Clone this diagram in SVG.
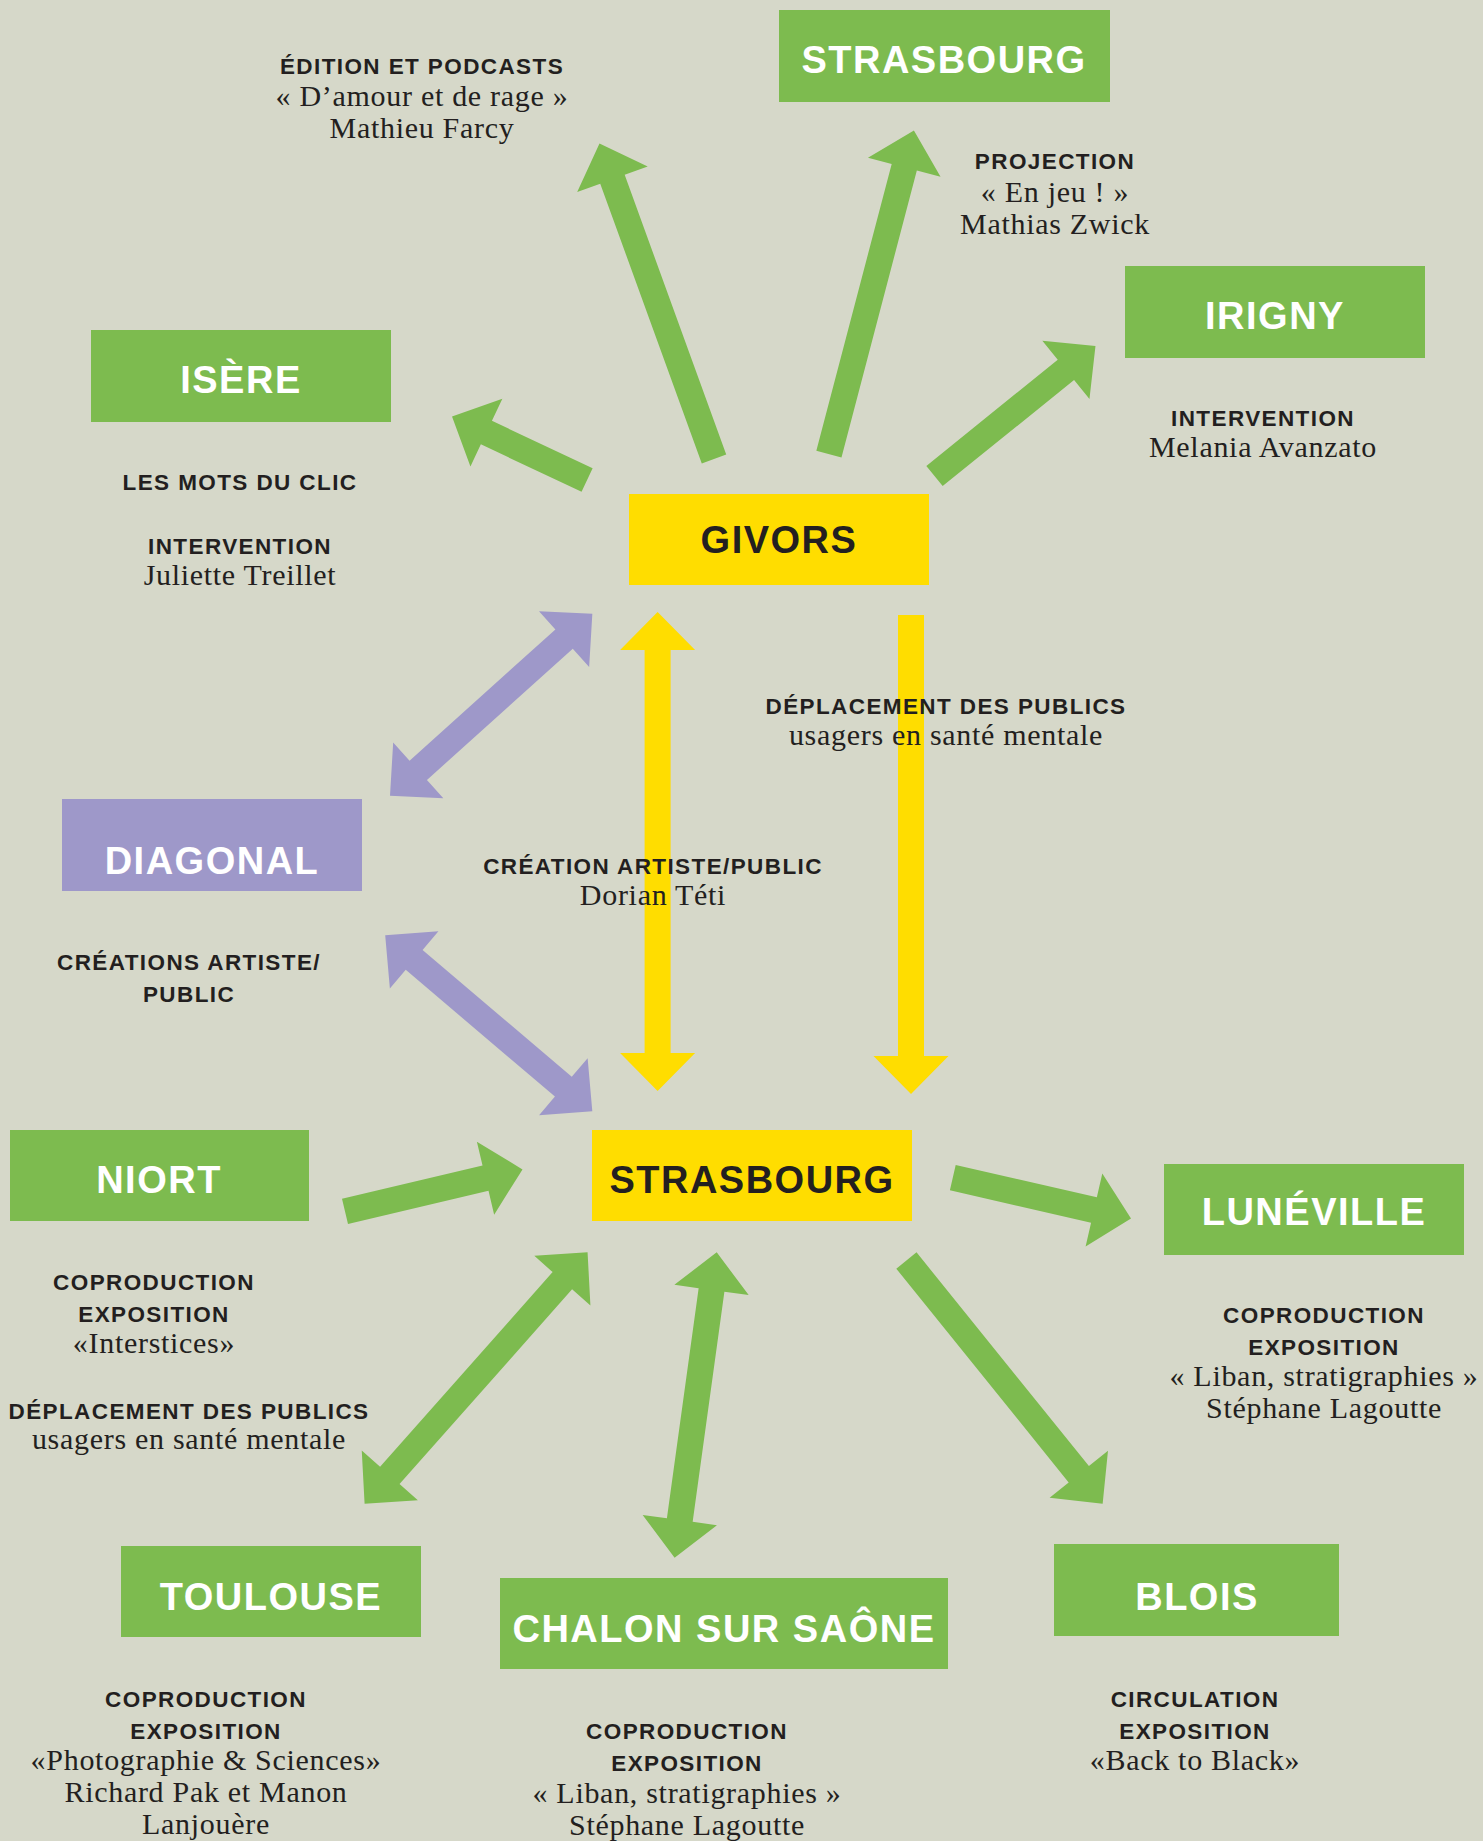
<svg xmlns="http://www.w3.org/2000/svg" width="1483" height="1841" viewBox="0 0 1483 1841">
<style>
.bg{fill:#d6d8c9}
.g{fill:#7dbb4f}
.y{fill:#ffdd00}
.p{fill:#9e98c9}
.nl{font-family:"Liberation Sans",Arial,sans-serif;font-weight:700;font-size:38px;letter-spacing:1.5px;text-anchor:middle;fill:#ffffff}
.nd{fill:#231f20}
.b{font-family:"Liberation Sans",Arial,sans-serif;font-weight:700;font-size:22.5px;letter-spacing:1.4px;text-anchor:middle;fill:#231f20}
.s{font-family:"Liberation Serif","Times New Roman",serif;font-size:30px;letter-spacing:0.7px;text-anchor:middle;fill:#231f20}
</style>
<rect class="bg" x="0" y="0" width="1483" height="1841"/>
<g id="connectors">
  <polygon class="g" points="0,-13 297.6,-13 297.6,-37.5 335.6,0 297.6,37.5 297.6,13 0,13" transform="translate(714,459) rotate(-109.95)"/>
  <polygon class="g" points="0,-13 296.6,-13 296.6,-37.5 334.6,0 296.6,37.5 296.6,13 0,13" transform="translate(828.9,454.1) rotate(-75.28)"/>
  <polygon class="g" points="0,-13 168.9,-13 168.9,-37.5 206.9,0 168.9,37.5 168.9,13 0,13" transform="translate(934.5,476) rotate(-38.92)"/>
  <polygon class="g" points="0,-13 111.3,-13 111.3,-37.5 149.3,0 111.3,37.5 111.3,13 0,13" transform="translate(587.1,480) rotate(-154.79)"/>
  <polygon class="y" points="38,-13 441.1,-13 441.1,-37.5 479.1,0 441.1,37.5 441.1,13 38,13 38,37.5 0,0 38,-37.5" transform="translate(657.6,1091) rotate(-90)"/>
  <polygon class="y" points="0,-13 441,-13 441,-37.5 479,0 441,37.5 441,13 0,13" transform="translate(911,615) rotate(90)"/>
  <polygon class="p" points="38,-13 234.1,-13 234.1,-37.5 272.1,0 234.1,37.5 234.1,13 38,13 38,37.5 0,0 38,-37.5" transform="translate(390,795.7) rotate(-41.96)"/>
  <polygon class="p" points="38,-13 233.8,-13 233.8,-37.5 271.8,0 233.8,37.5 233.8,13 38,13 38,37.5 0,0 38,-37.5" transform="translate(385.2,935.3) rotate(40.36)"/>
  <polygon class="g" points="0,-13 144.4,-13 144.4,-37.5 182.4,0 144.4,37.5 144.4,13 0,13" transform="translate(345,1211.4) rotate(-13.31)"/>
  <polygon class="g" points="0,-13 144.8,-13 144.8,-37.5 182.8,0 144.8,37.5 144.8,13 0,13" transform="translate(952.8,1177.7) rotate(12.87)"/>
  <polygon class="g" points="0,-13 274.6,-13 274.6,-37.5 312.6,0 274.6,37.5 274.6,13 0,13" transform="translate(906.4,1260.5) rotate(51.11)"/>
  <polygon class="g" points="38,-13 298.1,-13 298.1,-37.5 336.1,0 298.1,37.5 298.1,13 38,13 38,37.5 0,0 38,-37.5" transform="translate(364.6,1503.8) rotate(-48.44)"/>
  <polygon class="g" points="38,-13 270.3,-13 270.3,-37.5 308.3,0 270.3,37.5 270.3,13 38,13 38,37.5 0,0 38,-37.5" transform="translate(674.6,1557.7) rotate(-82.15)"/>
</g>
<g id="node-strasbourg-top"><rect class="g" x="779" y="10" width="331" height="92"/><text class="nl" x="944" y="73">STRASBOURG</text></g>
<g id="node-irigny"><rect class="g" x="1125" y="266" width="300" height="92"/><text class="nl" x="1275" y="329">IRIGNY</text></g>
<g id="node-isere"><rect class="g" x="91" y="330" width="300" height="92"/><text class="nl" x="241" y="393">ISÈRE</text></g>
<g id="node-givors"><rect class="y" x="629" y="494" width="300" height="91"/><text class="nl nd" x="779" y="553">GIVORS</text></g>
<g id="node-diagonal"><rect class="p" x="62" y="799" width="300" height="92"/><text class="nl" x="212" y="874">DIAGONAL</text></g>
<g id="node-niort"><rect class="g" x="10" y="1130" width="299" height="91"/><text class="nl" x="159" y="1193">NIORT</text></g>
<g id="node-strasbourg"><rect class="y" x="592" y="1130" width="320" height="91"/><text class="nl nd" x="752" y="1193">STRASBOURG</text></g>
<g id="node-luneville"><rect class="g" x="1164" y="1164" width="300" height="91"/><text class="nl" x="1314" y="1225">LUNÉVILLE</text></g>
<g id="node-toulouse"><rect class="g" x="121" y="1546" width="300" height="91"/><text class="nl" x="271" y="1610">TOULOUSE</text></g>
<g id="node-chalon"><rect class="g" x="500" y="1578" width="448" height="91"/><text class="nl" x="724" y="1642">CHALON SUR SAÔNE</text></g>
<g id="node-blois"><rect class="g" x="1054" y="1544" width="285" height="92"/><text class="nl" x="1197" y="1610">BLOIS</text></g>
<g id="labels">
  <text class="b" x="422" y="74">ÉDITION ET PODCASTS</text>
  <text class="s" x="422" y="106">« D’amour et de rage »</text>
  <text class="s" x="422" y="138">Mathieu Farcy</text>

  <text class="b" x="1055" y="169">PROJECTION</text>
  <text class="s" x="1055" y="202">« En jeu ! »</text>
  <text class="s" x="1055" y="234">Mathias Zwick</text>

  <text class="b" x="1263" y="426">INTERVENTION</text>
  <text class="s" x="1263" y="457">Melania Avanzato</text>

  <text class="b" x="240" y="490">LES MOTS DU CLIC</text>
  <text class="b" x="240" y="554">INTERVENTION</text>
  <text class="s" x="240" y="585">Juliette Treillet</text>

  <text class="b" x="946" y="714">DÉPLACEMENT DES PUBLICS</text>
  <text class="s" x="946" y="745">usagers en santé mentale</text>

  <text class="b" x="653" y="874">CRÉATION ARTISTE/PUBLIC</text>
  <text class="s" x="653" y="905">Dorian Téti</text>

  <text class="b" x="189" y="970">CRÉATIONS ARTISTE/</text>
  <text class="b" x="189" y="1002">PUBLIC</text>

  <text class="b" x="154" y="1290">COPRODUCTION</text>
  <text class="b" x="154" y="1322">EXPOSITION</text>
  <text class="s" x="154" y="1353">«Interstices»</text>
  <text class="b" x="189" y="1419">DÉPLACEMENT DES PUBLICS</text>
  <text class="s" x="189" y="1449">usagers en santé mentale</text>

  <text class="b" x="1324" y="1323">COPRODUCTION</text>
  <text class="b" x="1324" y="1355">EXPOSITION</text>
  <text class="s" x="1324" y="1386">« Liban, stratigraphies »</text>
  <text class="s" x="1324" y="1418">Stéphane Lagoutte</text>

  <text class="b" x="206" y="1707">COPRODUCTION</text>
  <text class="b" x="206" y="1739">EXPOSITION</text>
  <text class="s" x="206" y="1770">«Photographie &amp; Sciences»</text>
  <text class="s" x="206" y="1802">Richard Pak et Manon</text>
  <text class="s" x="206" y="1834">Lanjouère</text>

  <text class="b" x="687" y="1739">COPRODUCTION</text>
  <text class="b" x="687" y="1771">EXPOSITION</text>
  <text class="s" x="687" y="1803">« Liban, stratigraphies »</text>
  <text class="s" x="687" y="1835">Stéphane Lagoutte</text>

  <text class="b" x="1195" y="1707">CIRCULATION</text>
  <text class="b" x="1195" y="1739">EXPOSITION</text>
  <text class="s" x="1195" y="1770">«Back to Black»</text>
</g>
</svg>
